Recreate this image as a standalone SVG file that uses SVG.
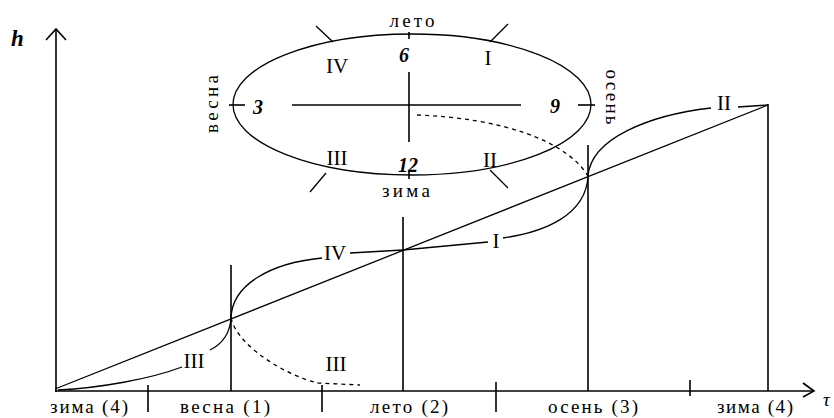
<svg xmlns="http://www.w3.org/2000/svg" width="834" height="418" viewBox="0 0 834 418">
<style>
.ln{stroke:#000;stroke-width:1.6;fill:none}
.cv{stroke:#000;stroke-width:1.3;fill:none}
.ds{stroke:#000;stroke-width:1.3;fill:none;stroke-dasharray:4 4}
.t{font-family:"Liberation Serif","Times New Roman",serif;fill:#000}
.rn{font-family:"Liberation Serif","Times New Roman",serif;font-size:21px;fill:#000;text-anchor:middle}
.num{font-family:"Liberation Serif","Times New Roman",serif;font-size:20px;font-weight:bold;font-style:italic;fill:#000;text-anchor:middle}
.sl{font-family:"Liberation Serif","Times New Roman",serif;font-size:19px;fill:#000;text-anchor:middle}
</style>
<rect width="834" height="418" fill="#fff"/>
<g id="axes">
<line class="ln" x1="56" y1="30" x2="56" y2="392"/>
<polyline class="ln" points="46,40 56,29 66,40"/>
<line class="ln" x1="55" y1="391" x2="813" y2="391"/>
<polyline class="ln" points="803,383 814,391 803,397"/>
<text class="t" x="11" y="46" font-size="23" font-weight="bold" font-style="italic">h</text>
<text class="t" x="823" y="406" font-size="19" font-style="italic">τ</text>
<line class="ln" x1="148" y1="385" x2="148" y2="412"/>
<line class="ln" x1="322" y1="385" x2="322" y2="412"/>
<line class="ln" x1="496" y1="382" x2="496" y2="412"/>
<line class="ln" x1="690" y1="380" x2="690" y2="396"/>
<text class="sl" x="89" y="413" textLength="78" lengthAdjust="spacing">зима (4)</text>
<text class="sl" x="225" y="413" textLength="90" lengthAdjust="spacing">весна (1)</text>
<text class="sl" x="409" y="413" textLength="78" lengthAdjust="spacing">лето (2)</text>
<text class="sl" x="593" y="413" textLength="90" lengthAdjust="spacing">осень (3)</text>
<text class="sl" x="755" y="413" textLength="76" lengthAdjust="spacing">зима (4)</text>
</g>
<g id="verticals">
<line class="ln" x1="231" y1="265" x2="231" y2="391"/>
<line class="ln" x1="403" y1="217" x2="403" y2="391"/>
<line class="ln" x1="588" y1="145" x2="588" y2="391"/>
<line class="ln" x1="768" y1="104" x2="768" y2="391"/>
<line class="cv" x1="55" y1="389" x2="768" y2="105"/>
</g>
<g id="curves">
<path class="cv" d="M58,390 C100,388 150,379 182,367"/>
<path class="cv" d="M210,350 C222,344 230,334 231,318"/>
<path class="cv" d="M231,318 C232,285 270,263 322,258"/>
<path class="cv" d="M350,253 L403,250"/>
<path class="ds" d="M231,318 C238,348 290,377 318,383 L360,385"/>
<path class="cv" d="M403,250 L488,242"/>
<path class="cv" d="M503,238 C545,232 586,215 588,176"/>
<path class="cv" d="M588,176 C591,138 650,115 711,108"/>
<path class="cv" d="M738,107 L768,105"/>
<path class="ds" d="M417,115 C500,118 566,140 588,176"/>
<text class="rn" x="194" y="368">III</text>
<text class="rn" x="336" y="371">III</text>
<text class="rn" x="335" y="260">IV</text>
<text class="rn" x="496" y="248">I</text>
<text class="rn" x="724" y="110">II</text>
</g>
<g id="clock">
<ellipse class="cv" cx="412" cy="104.5" rx="179" ry="70.5"/>
<line class="ln" x1="292" y1="105" x2="521" y2="105"/>
<line class="ln" x1="409" y1="72" x2="409" y2="142"/>
<line class="ln" x1="229" y1="105" x2="245" y2="105"/>
<line class="ln" x1="578" y1="105" x2="595" y2="105"/>
<line class="ln" x1="409" y1="32" x2="409" y2="39"/>
<line class="ln" x1="409" y1="171" x2="409" y2="179"/>
<line class="cv" x1="316" y1="26" x2="333" y2="42"/>
<line class="cv" x1="508" y1="24" x2="490" y2="42"/>
<line class="cv" x1="310" y1="192" x2="326" y2="173"/>
<line class="cv" x1="508" y1="188" x2="490" y2="170"/>
<text class="num" x="404" y="62">6</text>
<text class="num" x="258" y="114">3</text>
<text class="num" x="555" y="113">9</text>
<text class="num" x="408" y="172">12</text>
<text class="rn" x="337" y="73">IV</text>
<text class="rn" x="488" y="65">I</text>
<text class="rn" x="337" y="165">III</text>
<text class="rn" x="490" y="167">II</text>
<text class="sl" x="412" y="27" textLength="45" lengthAdjust="spacing">лето</text>
<text class="sl" x="406" y="197" textLength="48" lengthAdjust="spacing">зима</text>
<text class="sl" transform="translate(218,104) rotate(-90)" textLength="58" lengthAdjust="spacing">весна</text>
<text class="sl" transform="translate(606,97) rotate(90)" textLength="55" lengthAdjust="spacing">осень</text>
</g>
</svg>
